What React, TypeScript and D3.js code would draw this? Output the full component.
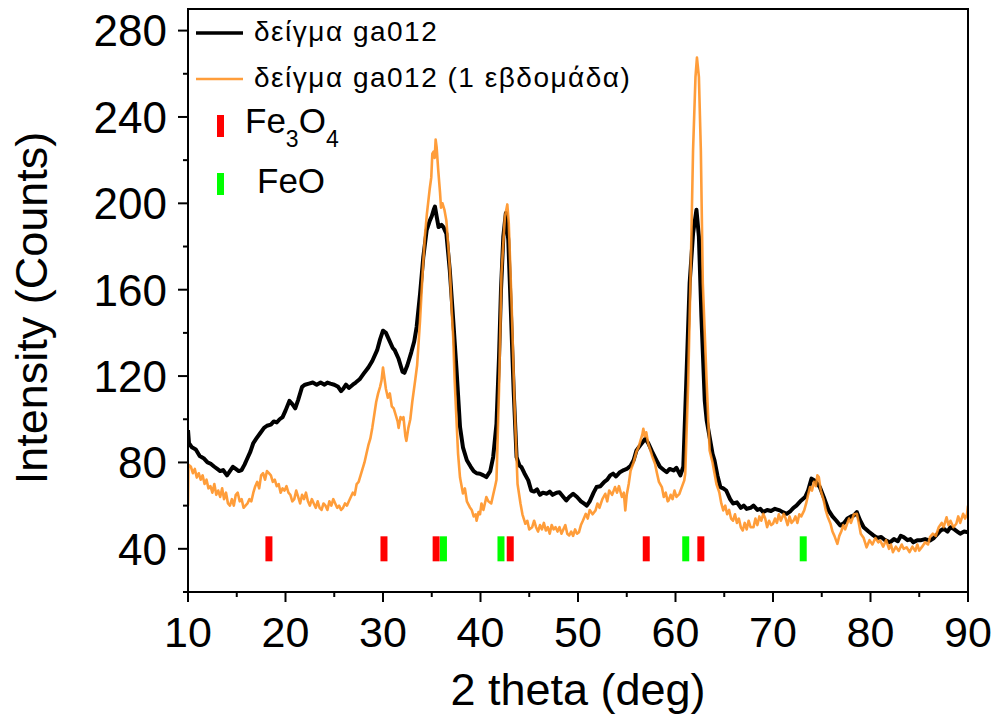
import React from "react";
import * as d3 from "d3";

// ---- Data (2θ in degrees, intensity in counts) ----
const blackSeries: [number, number][] = [
  [10.0, 95], [10.1, 89], [10.4, 87], [10.8, 86], [11.2, 83], [11.6, 82], [12.0, 80], [12.3, 79.5],
  [12.7, 78], [13.0, 77], [13.3, 76], [13.6, 76.5], [14.0, 74], [14.3, 76], [14.6, 78], [14.9, 77],
  [15.2, 76], [15.5, 76.5], [15.8, 79], [16.0, 81], [16.4, 85], [16.7, 89], [17.0, 91], [17.4, 93.5],
  [17.8, 96], [18.1, 97], [18.5, 97.5], [18.8, 99], [19.1, 98.5], [19.4, 100], [19.7, 101], [20.0, 104],
  [20.4, 108.5], [20.7, 107], [21.0, 105], [21.3, 109], [21.7, 115], [22.0, 116], [22.4, 116.5], [22.8, 117],
  [23.2, 116], [23.6, 117], [24.0, 116], [24.3, 117], [24.6, 116.5], [25.0, 116], [25.4, 115], [25.7, 113],
  [25.9, 114], [26.2, 116], [26.5, 114.5], [26.9, 116], [27.2, 117], [27.6, 118.5], [28.0, 121], [28.5, 124],
  [28.9, 127], [29.4, 132], [29.7, 137], [30.0, 141], [30.3, 140], [30.6, 137], [31.0, 133], [31.2, 132],
  [31.6, 128], [32.0, 122], [32.2, 121.5], [32.5, 125], [32.9, 131], [33.2, 136], [33.45, 142.7], [33.8, 158],
  [34.13, 175], [34.48, 187.6], [34.8, 192], [35.0, 194], [35.2, 197], [35.33, 198.5], [35.5, 194], [35.7, 189],
  [36.0, 190], [36.2, 189], [36.5, 186], [36.85, 169], [37.2, 146], [37.54, 123], [37.9, 96.4], [38.2, 87],
  [38.6, 81], [39.0, 78], [39.3, 76], [39.6, 75], [39.95, 74.8], [40.3, 74], [40.6, 73.2], [41.0, 76],
  [41.3, 82.5], [41.64, 98], [41.9, 128.8], [42.1, 159.8], [42.34, 184.5], [42.6, 195.5], [42.85, 183], [43.1, 152],
  [43.4, 113.4], [43.7, 82.5], [44.0, 78.5], [44.2, 77.8], [44.5, 75], [44.9, 71.7], [45.2, 67], [45.5, 66.5],
  [45.8, 67.5], [46.1, 65], [46.4, 66], [46.8, 65.5], [47.1, 66.5], [47.4, 65], [47.8, 66], [48.1, 66.2],
  [48.5, 64], [48.8, 62.4], [49.1, 64], [49.5, 65.5], [49.9, 64], [50.3, 62], [50.6, 61], [50.9, 60],
  [51.2, 62], [51.6, 66], [51.9, 68.6], [52.3, 69], [52.7, 71], [53.0, 72], [53.3, 74], [53.6, 74.8],
  [53.9, 73.5], [54.3, 75.5], [54.7, 76.5], [55.0, 77], [55.4, 78.5], [55.7, 81], [56.0, 85.6], [56.4, 88],
  [56.9, 91], [57.2, 89], [57.6, 85], [58.05, 81], [58.4, 78], [58.8, 76.5], [59.1, 75.5], [59.4, 77],
  [59.8, 76.3], [60.1, 77.5], [60.5, 74], [60.8, 78], [61.1, 116.5], [61.45, 163], [61.8, 186], [62.15, 197],
  [62.4, 184.5], [62.66, 147.4], [63.0, 108.7], [63.2, 99.5], [63.5, 91.7], [63.8, 84], [64.0, 81], [64.3, 74],
  [64.6, 68.6], [64.9, 68], [65.2, 67], [65.6, 63], [65.9, 61], [66.3, 61.5], [66.7, 59], [67.0, 60],
  [67.3, 58.5], [67.7, 59], [68.0, 60], [68.4, 58], [68.7, 58.5], [69.0, 57], [69.4, 58], [69.8, 57.5],
  [70.2, 58.5], [70.7, 57.8], [71.0, 57], [71.4, 56.2], [71.8, 57.5], [72.1, 59], [72.4, 60], [72.8, 62],
  [73.3, 64], [73.6, 67], [73.95, 72.5], [74.3, 71.5], [74.8, 68.6], [75.2, 64], [75.7, 57.8], [76.1, 55],
  [76.5, 53], [76.9, 50.8], [77.3, 52], [77.6, 53.9], [78.0, 55], [78.3, 55.5], [78.6, 57], [78.9, 53.5],
  [79.3, 50], [79.8, 48], [80.3, 46.2], [80.7, 45], [81.1, 45.5], [81.5, 44], [82.0, 43], [82.4, 44.5],
  [82.8, 43.5], [83.1, 46], [83.4, 45.4], [83.8, 44], [84.1, 44.5], [84.4, 43], [84.8, 44], [85.2, 44],
  [85.6, 44.5], [86.1, 43.8], [86.5, 45], [86.9, 47], [87.2, 48.5], [87.5, 49.3], [87.9, 48], [88.2, 50],
  [88.5, 49.3], [88.9, 48], [89.2, 47], [89.6, 48], [90.0, 47.7],
];

const orangeSeries: [number, number][] = [
  [10.0, 60], [10.05, 79], [10.3, 78], [10.5, 75], [10.7, 77], [10.9, 73], [11.1, 75], [11.3, 72],
  [11.5, 74], [11.7, 70], [11.9, 72], [12.1, 68], [12.3, 69], [12.5, 66], [12.7, 70], [12.9, 65],
  [13.1, 67], [13.3, 64], [13.5, 68], [13.7, 63], [13.9, 66], [14.1, 61], [14.3, 60], [14.5, 63],
  [14.7, 60], [14.9, 65], [15.1, 66], [15.3, 62], [15.5, 63], [15.7, 59], [15.9, 60], [16.1, 61],
  [16.3, 63], [16.5, 62], [16.7, 66], [16.9, 69], [17.1, 71], [17.3, 68], [17.5, 74], [17.7, 75],
  [17.9, 72], [18.1, 76], [18.3, 75], [18.5, 74], [18.7, 71], [18.9, 72], [19.1, 69], [19.3, 70],
  [19.5, 66], [19.7, 68], [19.9, 67], [20.1, 69], [20.3, 66], [20.5, 65], [20.7, 62], [20.9, 63],
  [21.1, 67], [21.3, 64], [21.5, 61], [21.7, 65], [21.9, 63], [22.1, 66], [22.3, 62], [22.5, 60],
  [22.7, 63], [22.9, 61], [23.1, 59], [23.3, 62], [23.5, 59], [23.7, 58], [23.9, 61], [24.1, 60],
  [24.3, 58], [24.5, 62], [24.7, 60], [24.9, 63], [25.1, 61], [25.3, 59], [25.5, 60], [25.7, 58],
  [25.9, 59], [26.1, 61], [26.3, 60], [26.5, 62], [26.7, 64], [26.9, 66], [27.1, 65], [27.3, 70],
  [27.5, 71], [27.7, 74], [27.9, 77], [28.1, 80], [28.3, 84], [28.5, 88], [28.7, 91], [28.9, 96],
  [29.1, 102], [29.3, 108], [29.5, 112], [29.7, 115], [29.85, 118], [30.0, 124], [30.15, 119], [30.3, 114],
  [30.5, 110], [30.7, 112], [30.9, 106], [31.1, 105], [31.3, 102], [31.5, 99], [31.6, 96], [31.8, 101],
  [32.0, 100], [32.1, 101], [32.3, 92], [32.4, 90], [32.6, 96], [32.8, 100], [33.0, 108], [33.3, 118],
  [33.5, 125], [33.8, 145.8], [34.1, 170.5], [34.3, 185], [34.5, 195], [34.8, 207], [34.95, 212], [35.06, 223],
  [35.2, 224], [35.3, 221], [35.4, 229.5], [35.5, 226], [35.67, 215], [35.85, 205], [35.95, 198], [36.1, 200],
  [36.3, 197], [36.5, 192], [36.7, 180], [36.85, 170], [37.05, 150], [37.2, 138], [37.35, 118], [37.54, 99.5],
  [37.7, 84], [37.9, 73], [38.2, 65.6], [38.4, 68], [38.6, 62], [38.9, 59.3], [39.1, 58], [39.3, 55],
  [39.5, 56], [39.6, 53], [39.8, 57], [39.95, 56], [40.1, 61], [40.3, 58], [40.6, 64], [40.8, 62],
  [41.1, 61], [41.3, 65], [41.5, 69], [41.64, 72], [41.9, 113.4], [42.15, 167.5], [42.5, 193.7], [42.75, 199.5],
  [42.9, 190.7], [43.2, 152], [43.5, 105.6], [43.8, 70], [44.1, 61], [44.3, 56], [44.6, 51.6], [44.8, 53],
  [45.0, 49], [45.3, 50], [45.5, 53], [45.7, 50], [45.9, 48], [46.1, 51], [46.3, 49], [46.5, 52],
  [46.7, 48.5], [46.9, 50], [47.1, 47], [47.3, 51], [47.5, 49], [47.7, 50], [47.9, 48], [48.1, 50],
  [48.3, 47], [48.5, 49], [48.7, 51], [48.9, 47], [49.1, 46.2], [49.3, 48], [49.5, 46], [49.7, 49],
  [49.9, 47], [50.1, 47.7], [50.3, 51], [50.5, 53], [50.8, 56.2], [51.0, 54], [51.2, 58], [51.5, 56],
  [51.8, 57.8], [52.0, 61], [52.2, 59], [52.5, 63], [52.8, 65.5], [53.0, 62], [53.2, 67], [53.5, 65],
  [53.8, 68.6], [54.0, 66], [54.2, 69], [54.5, 64], [54.7, 66], [54.85, 57.8], [55.0, 65], [55.2, 70],
  [55.4, 76.3], [55.7, 80], [56.0, 85], [56.2, 87], [56.4, 90], [56.6, 93], [56.7, 95.6], [56.85, 92],
  [57.0, 94], [57.2, 88.7], [57.4, 86], [57.6, 83], [57.9, 79.4], [58.1, 75], [58.3, 71], [58.6, 68.6],
  [58.8, 64], [59.0, 66], [59.2, 62], [59.3, 62.4], [59.5, 65], [59.7, 63], [59.9, 67], [60.1, 64],
  [60.4, 65.5], [60.6, 68], [60.9, 71.7], [61.0, 74.8], [61.3, 116.5], [61.6, 178], [61.8, 224.6], [62.05, 258.6],
  [62.2, 267.5], [62.4, 258.6], [62.6, 224.6], [62.8, 163], [63.2, 116.5], [63.5, 85.6], [63.8, 80], [64.0, 75],
  [64.2, 70], [64.5, 66], [64.7, 61], [64.9, 57.8], [65.1, 60], [65.3, 56], [65.5, 58], [65.7, 54],
  [65.9, 53], [66.1, 56], [66.3, 52], [66.5, 54], [66.7, 50], [66.9, 48.5], [67.1, 52], [67.3, 49],
  [67.5, 53], [67.7, 50], [68.0, 50], [68.2, 54], [68.4, 51], [68.6, 55], [68.8, 53], [69.0, 56.2],
  [69.2, 54], [69.4, 50], [69.6, 53], [69.8, 51], [70.0, 51.6], [70.2, 54], [70.4, 52], [70.6, 56],
  [70.8, 53], [71.1, 56.2], [71.3, 54], [71.5, 51], [71.7, 55], [71.9, 52], [72.1, 53], [72.3, 55],
  [72.5, 52], [72.7, 56], [72.9, 55], [73.2, 57.8], [73.4, 61], [73.6, 65], [73.8, 68.6], [74.0, 67],
  [74.2, 71], [74.4, 69], [74.55, 74], [74.7, 73.2], [74.9, 67], [75.2, 62.4], [75.4, 58], [75.6, 55],
  [75.9, 51.6], [76.1, 48], [76.3, 46], [76.6, 42.3], [76.8, 46], [77.0, 48], [77.2, 51], [77.4, 49],
  [77.6, 51.6], [77.8, 54], [78.0, 52], [78.3, 56], [78.6, 56.2], [78.8, 52], [79.0, 47], [79.3, 45],
  [79.6, 40.7], [79.9, 44], [80.2, 42], [80.5, 45], [80.8, 43], [81.0, 43.8], [81.3, 41], [81.6, 44],
  [81.9, 40], [82.1, 42], [82.3, 38.4], [82.6, 41], [82.9, 39], [83.2, 42], [83.4, 40], [83.7, 40.7],
  [84.0, 38.5], [84.3, 41], [84.6, 39], [84.8, 42], [85.0, 39.2], [85.3, 41], [85.6, 43], [85.9, 42],
  [86.1, 45.4], [86.4, 47], [86.7, 46], [87.0, 50], [87.3, 52], [87.5, 50], [87.8, 54.6], [88.0, 51],
  [88.2, 53], [88.5, 50], [88.8, 51.6], [89.0, 55], [89.2, 52], [89.5, 56.2], [89.7, 54], [89.9, 56],
  [90.0, 60],
];

const fe3o4Peaks: number[] = [18.3, 30.1, 35.45, 43.05, 57.0, 62.6];
const feoPeaks: number[] = [36.2, 42.1, 61.05, 73.1];
const markerLevel = 40;

const xMajorTicks: number[] = [10, 20, 30, 40, 50, 60, 70, 80, 90];
const xMinorTicks: number[] = [15, 25, 35, 45, 55, 65, 75, 85];
const yMajorTicks: number[] = [40, 80, 120, 160, 200, 240, 280];
const yMinorTicks: number[] = [20, 60, 100, 140, 180, 220, 260];

const legendLabels: string[] = ["δείγμα ga012", "δείγμα ga012 (1 εβδομάδα)"];
const xTitle = "2 theta (deg)";
const yTitle = "Intensity (Counts)";

const FONT = "'Liberation Sans', Arial, Helvetica, sans-serif";
const BLACK = "#000000";
const ORANGE = "#ff8f1f";
const RED = "#ff0000";
const GREEN = "#00ff00";

export default function App() {
  const W = 997, H = 716;
  const left = 188, right = 968, top = 9, bottom = 592;
  const x = d3.scaleLinear().domain([10, 90]).range([left, right]);
  const y = d3.scaleLinear().domain([20, 290]).range([bottom, top]);
  const line = d3.line<[number, number]>().x(d => x(d[0])).y(d => y(d[1]));

  const markW = 7, markH = 25;

  return (
    <svg width={W} height={H} style={{ position: "absolute", left: 0, top: 0, display: "block", background: "#fff" }}
      fontFamily={FONT}>
      <defs>
        <clipPath id="plotClip">
          <rect x={left} y={top} width={right - left} height={bottom - top} />
        </clipPath>
      </defs>

      {/* phase markers */}
      {fe3o4Peaks.map((p, i) => (
        <rect key={"r" + i} x={x(p) - markW / 2} y={y(markerLevel) - markH / 2} width={markW} height={markH} fill={RED} />
      ))}
      {feoPeaks.map((p, i) => (
        <rect key={"g" + i} x={x(p) - markW / 2} y={y(markerLevel) - markH / 2} width={markW} height={markH} fill={GREEN} />
      ))}

      {/* curves */}
      <g clipPath="url(#plotClip)">
        <path d={line(blackSeries) || ""} fill="none" stroke={BLACK} strokeWidth={4} strokeLinejoin="round" />
        <path d={line(orangeSeries) || ""} fill="none" stroke={ORANGE} strokeWidth={2.6} strokeOpacity={0.88} strokeLinejoin="round" />
      </g>

      {/* frame */}
      <rect x={left} y={top} width={right - left} height={bottom - top} fill="none" stroke="#000" strokeWidth={2} />

      {/* x ticks */}
      {xMajorTicks.map(t => (
        <g key={"xm" + t}>
          <line x1={x(t)} x2={x(t)} y1={bottom} y2={bottom + 10} stroke="#000" strokeWidth={2} />
          <text x={x(t)} y={bottom + 55} fontSize={43} textAnchor="middle" fill="#000">{t}</text>
        </g>
      ))}
      {xMinorTicks.map(t => (
        <line key={"xn" + t} x1={x(t)} x2={x(t)} y1={bottom} y2={bottom + 5} stroke="#000" strokeWidth={2} />
      ))}

      {/* y ticks */}
      {yMajorTicks.map(t => (
        <g key={"ym" + t}>
          <line x1={left - 10} x2={left} y1={y(t)} y2={y(t)} stroke="#000" strokeWidth={2} />
          <text x={left - 21} y={y(t)} dy="0.36em" fontSize={44} textAnchor="end" fill="#000">{t}</text>
        </g>
      ))}
      {yMinorTicks.map(t => (
        <line key={"yn" + t} x1={left - 5} x2={left} y1={y(t)} y2={y(t)} stroke="#000" strokeWidth={2} />
      ))}

      {/* axis titles */}
      <text x={(left + right) / 2} y={705} fontSize={45} textAnchor="middle" fill="#000">{xTitle}</text>
      <text transform={`translate(47,308) rotate(-90)`} fontSize={45} textAnchor="middle" fill="#000">{yTitle}</text>

      {/* legend */}
      <line x1={196} x2={243} y1={33} y2={33} stroke={BLACK} strokeWidth={3.5} />
      <text x={254} y={41} fontSize={28} letterSpacing={1.5} fill="#000">{legendLabels[0]}</text>
      <line x1={196} x2={243} y1={79} y2={79} stroke={ORANGE} strokeWidth={2.6} strokeOpacity={0.88} />
      <text x={254} y={87} fontSize={28} letterSpacing={1.5} fill="#000">{legendLabels[1]}</text>

      <rect x={217} y={115} width={7} height={22} fill={RED} />
      <text x={245} y={133} fontSize={35} fill="#000">
        <tspan>Fe</tspan>
        <tspan fontSize={23} dy={14}>3</tspan>
        <tspan dy={-14}>O</tspan>
        <tspan fontSize={23} dy={14}>4</tspan>
      </text>
      <rect x={217} y={173} width={7} height={22} fill={GREEN} />
      <text x={257} y={193} fontSize={35} fill="#000">FeO</text>
    </svg>
  );
}
